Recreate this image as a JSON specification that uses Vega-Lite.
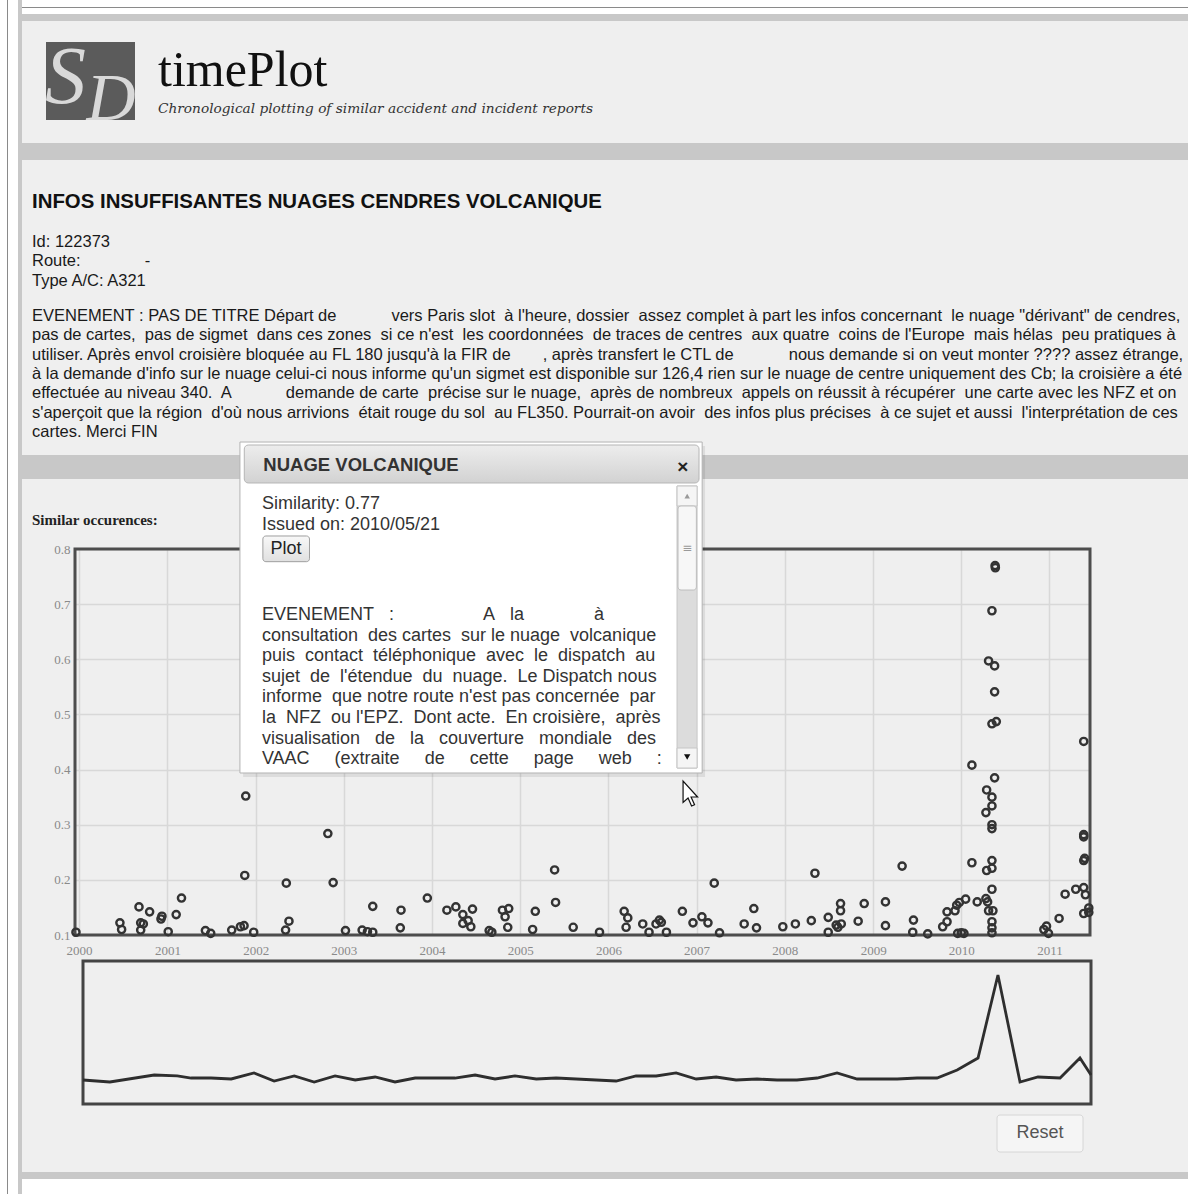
{
  "$schema": "https://vega.github.io/schema/vega-lite/v6.json",
  "background": "#efefef",
  "padding": 0,
  "spacing": 0,
  "bounds": "full",
  "config": {
    "view": {"stroke": null},
    "concat": {"spacing": 0},
    "title": {"offset": 0, "anchor": "start", "frame": "group", "orient": "bottom"}
  },
  "datasets": {
    "pts": [
      {"date": "1999-12-19", "sim": 0.105}, {"date": "2000-06-18", "sim": 0.122}, {"date": "2000-06-25", "sim": 0.110},
      {"date": "2000-09-05", "sim": 0.151}, {"date": "2000-09-12", "sim": 0.122}, {"date": "2000-09-23", "sim": 0.120},
      {"date": "2000-09-12", "sim": 0.109}, {"date": "2000-10-19", "sim": 0.142}, {"date": "2000-12-09", "sim": 0.134},
      {"date": "2000-12-05", "sim": 0.129}, {"date": "2001-01-04", "sim": 0.106}, {"date": "2001-02-06", "sim": 0.137},
      {"date": "2001-02-28", "sim": 0.167}, {"date": "2001-06-07", "sim": 0.108}, {"date": "2001-06-29", "sim": 0.103},
      {"date": "2001-09-24", "sim": 0.109}, {"date": "2001-10-30", "sim": 0.115}, {"date": "2001-11-14", "sim": 0.117},
      {"date": "2001-11-17", "sim": 0.208}, {"date": "2001-11-21", "sim": 0.352}, {"date": "2001-12-24", "sim": 0.105},
      {"date": "2002-05-05", "sim": 0.109}, {"date": "2002-05-19", "sim": 0.125}, {"date": "2002-05-08", "sim": 0.194},
      {"date": "2002-10-27", "sim": 0.284}, {"date": "2002-11-18", "sim": 0.195}, {"date": "2003-01-08", "sim": 0.108},
      {"date": "2003-03-18", "sim": 0.109}, {"date": "2003-04-09", "sim": 0.106}, {"date": "2003-05-01", "sim": 0.105},
      {"date": "2003-05-01", "sim": 0.152}, {"date": "2003-08-26", "sim": 0.145}, {"date": "2003-08-23", "sim": 0.113},
      {"date": "2003-12-13", "sim": 0.167}, {"date": "2004-03-03", "sim": 0.145}, {"date": "2004-04-09", "sim": 0.151},
      {"date": "2004-05-08", "sim": 0.137}, {"date": "2004-06-17", "sim": 0.147}, {"date": "2004-05-08", "sim": 0.121},
      {"date": "2004-05-30", "sim": 0.126}, {"date": "2004-06-10", "sim": 0.115}, {"date": "2004-08-25", "sim": 0.108},
      {"date": "2004-09-05", "sim": 0.105}, {"date": "2004-10-19", "sim": 0.145}, {"date": "2004-11-14", "sim": 0.148},
      {"date": "2004-10-30", "sim": 0.133}, {"date": "2004-11-10", "sim": 0.114}, {"date": "2005-02-21", "sim": 0.110},
      {"date": "2005-03-04", "sim": 0.143}, {"date": "2005-05-23", "sim": 0.218}, {"date": "2005-05-27", "sim": 0.159},
      {"date": "2005-08-08", "sim": 0.114}, {"date": "2005-11-25", "sim": 0.105}, {"date": "2006-03-07", "sim": 0.143},
      {"date": "2006-03-22", "sim": 0.131}, {"date": "2006-03-15", "sim": 0.114}, {"date": "2006-05-23", "sim": 0.120},
      {"date": "2006-06-18", "sim": 0.105}, {"date": "2006-07-17", "sim": 0.120}, {"date": "2006-07-31", "sim": 0.127},
      {"date": "2006-08-08", "sim": 0.123}, {"date": "2006-08-29", "sim": 0.105}, {"date": "2006-11-03", "sim": 0.143},
      {"date": "2006-12-17", "sim": 0.122}, {"date": "2007-01-23", "sim": 0.133}, {"date": "2007-02-17", "sim": 0.122},
      {"date": "2007-03-15", "sim": 0.194}, {"date": "2007-04-06", "sim": 0.104}, {"date": "2007-07-17", "sim": 0.120},
      {"date": "2007-08-26", "sim": 0.148}, {"date": "2007-09-06", "sim": 0.113}, {"date": "2007-12-24", "sim": 0.115},
      {"date": "2008-02-14", "sim": 0.120}, {"date": "2008-04-20", "sim": 0.126}, {"date": "2008-05-05", "sim": 0.212},
      {"date": "2008-06-29", "sim": 0.132}, {"date": "2008-06-29", "sim": 0.105}, {"date": "2008-08-01", "sim": 0.118},
      {"date": "2008-08-08", "sim": 0.114}, {"date": "2008-08-22", "sim": 0.120}, {"date": "2008-08-19", "sim": 0.157},
      {"date": "2008-08-19", "sim": 0.144}, {"date": "2008-10-31", "sim": 0.125}, {"date": "2008-11-25", "sim": 0.157},
      {"date": "2009-02-21", "sim": 0.160}, {"date": "2009-02-21", "sim": 0.117}, {"date": "2009-05-01", "sim": 0.225},
      {"date": "2009-06-17", "sim": 0.127}, {"date": "2009-06-14", "sim": 0.105}, {"date": "2009-08-15", "sim": 0.102},
      {"date": "2009-10-16", "sim": 0.115}, {"date": "2009-11-03", "sim": 0.124}, {"date": "2009-11-03", "sim": 0.142},
      {"date": "2009-12-06", "sim": 0.144}, {"date": "2009-12-13", "sim": 0.154}, {"date": "2009-12-24", "sim": 0.159},
      {"date": "2010-01-19", "sim": 0.165}, {"date": "2009-12-17", "sim": 0.103}, {"date": "2010-01-01", "sim": 0.104},
      {"date": "2010-01-12", "sim": 0.103}, {"date": "2010-02-14", "sim": 0.231}, {"date": "2010-02-14", "sim": 0.408},
      {"date": "2010-03-08", "sim": 0.160}, {"date": "2010-04-13", "sim": 0.166}, {"date": "2010-04-20", "sim": 0.160},
      {"date": "2010-04-16", "sim": 0.217}, {"date": "2010-05-08", "sim": 0.235}, {"date": "2010-05-08", "sim": 0.221},
      {"date": "2010-05-08", "sim": 0.183}, {"date": "2010-04-24", "sim": 0.144}, {"date": "2010-05-12", "sim": 0.144},
      {"date": "2010-05-08", "sim": 0.124}, {"date": "2010-05-08", "sim": 0.113}, {"date": "2010-05-08", "sim": 0.104},
      {"date": "2010-04-16", "sim": 0.363}, {"date": "2010-05-08", "sim": 0.350}, {"date": "2010-05-08", "sim": 0.334},
      {"date": "2010-04-13", "sim": 0.322}, {"date": "2010-05-08", "sim": 0.300}, {"date": "2010-05-08", "sim": 0.293},
      {"date": "2010-05-19", "sim": 0.385}, {"date": "2010-05-08", "sim": 0.483}, {"date": "2010-05-26", "sim": 0.487},
      {"date": "2010-05-19", "sim": 0.541}, {"date": "2010-04-24", "sim": 0.597}, {"date": "2010-05-19", "sim": 0.588},
      {"date": "2010-05-08", "sim": 0.688}, {"date": "2010-05-21", "sim": 0.770}, {"date": "2010-05-22", "sim": 0.766},
      {"date": "2010-12-09", "sim": 0.110}, {"date": "2010-12-20", "sim": 0.116}, {"date": "2010-12-28", "sim": 0.103},
      {"date": "2011-02-10", "sim": 0.130}, {"date": "2011-03-07", "sim": 0.174}, {"date": "2011-04-20", "sim": 0.183},
      {"date": "2011-05-23", "sim": 0.186}, {"date": "2011-05-30", "sim": 0.173}, {"date": "2011-05-23", "sim": 0.139},
      {"date": "2011-06-13", "sim": 0.149}, {"date": "2011-06-13", "sim": 0.141}, {"date": "2011-05-23", "sim": 0.278},
      {"date": "2011-05-23", "sim": 0.282}, {"date": "2011-05-27", "sim": 0.239}, {"date": "2011-05-23", "sim": 0.235},
      {"date": "2011-05-23", "sim": 0.451}
    ],
    "overview": [
      {"date": "1999-12-15", "count": 4.0}, {"date": "2000-04-05", "count": 3.67}, {"date": "2000-10-07", "count": 4.83},
      {"date": "2001-01-11", "count": 4.67}, {"date": "2001-03-10", "count": 4.33}, {"date": "2001-06-01", "count": 4.33},
      {"date": "2001-08-24", "count": 4.17}, {"date": "2001-11-27", "count": 5.17}, {"date": "2002-02-19", "count": 3.83},
      {"date": "2002-05-14", "count": 4.67}, {"date": "2002-08-05", "count": 3.67}, {"date": "2002-10-31", "count": 4.67},
      {"date": "2003-01-23", "count": 4.0}, {"date": "2003-04-16", "count": 4.5}, {"date": "2003-07-08", "count": 3.67},
      {"date": "2003-09-30", "count": 4.33}, {"date": "2003-12-22", "count": 4.33}, {"date": "2004-03-14", "count": 4.33},
      {"date": "2004-06-06", "count": 4.83}, {"date": "2004-08-28", "count": 4.17}, {"date": "2004-11-19", "count": 4.67},
      {"date": "2005-02-16", "count": 4.17}, {"date": "2005-05-10", "count": 4.33}, {"date": "2005-08-01", "count": 4.17},
      {"date": "2005-10-24", "count": 4.0}, {"date": "2006-01-15", "count": 3.83}, {"date": "2006-04-08", "count": 4.67},
      {"date": "2006-07-01", "count": 4.67}, {"date": "2006-09-22", "count": 5.17}, {"date": "2006-12-15", "count": 4.17},
      {"date": "2007-03-08", "count": 4.5}, {"date": "2007-05-30", "count": 4.0}, {"date": "2007-08-26", "count": 4.17},
      {"date": "2007-11-17", "count": 4.0}, {"date": "2008-02-08", "count": 4.0}, {"date": "2008-05-02", "count": 4.33},
      {"date": "2008-07-24", "count": 5.17}, {"date": "2008-10-16", "count": 4.17}, {"date": "2009-01-08", "count": 4.17},
      {"date": "2009-04-01", "count": 4.17}, {"date": "2009-06-23", "count": 4.33}, {"date": "2009-09-14", "count": 4.33},
      {"date": "2009-12-07", "count": 5.67}, {"date": "2010-03-04", "count": 7.67}, {"date": "2010-05-26", "count": 21.5},
      {"date": "2010-08-26", "count": 3.67}, {"date": "2010-11-09", "count": 4.5}, {"date": "2011-02-09", "count": 4.33},
      {"date": "2011-05-03", "count": 7.67}, {"date": "2011-06-18", "count": 4.83}
    ]
  },
  "hconcat": [
    {"width": 7, "height": 1194, "data": {"values": []}, "mark": "rect", "encoding": {}, "view": {"fill": "#ffffff"}},
    {"width": 1, "height": 1194, "data": {"values": []}, "mark": "rect", "encoding": {}, "view": {"fill": "#8a8a8a"}},
    {"width": 10, "height": 1194, "data": {"values": []}, "mark": "rect", "encoding": {}, "view": {"fill": "#ffffff"}},
    {"width": 4, "height": 1194, "data": {"values": []}, "mark": "rect", "encoding": {}, "view": {"fill": "#c8c8c8"}},
    {
      "spacing": 0, "bounds": "flush",
      "vconcat": [
        {"width": 1166, "height": 7, "data": {"values": []}, "mark": "rect", "encoding": {}, "view": {"fill": "#ffffff"}},
        {"width": 1166, "height": 1, "data": {"values": []}, "mark": "rect", "encoding": {}, "view": {"fill": "#8a8a8a"}},
        {"width": 1166, "height": 6, "data": {"values": []}, "mark": "rect", "encoding": {}, "view": {"fill": "#ffffff"}},
        {"width": 1166, "height": 7, "data": {"values": []}, "mark": "rect", "encoding": {}, "view": {"fill": "#c8c8c8"}},
        {
          "width": 1166, "height": 122,
          "title": {
            "text": "timePlot",
            "subtitle": "Chronological plotting of similar accident and incident reports",
            "orient": "bottom", "anchor": "start", "frame": "group", "offset": -97.5, "dx": 136,
            "font": "Liberation Serif", "fontSize": 50, "fontWeight": "normal", "color": "#111111",
            "subtitleFont": "DejaVu Serif", "subtitleFontSize": 13.7, "subtitleFontStyle": "italic", "subtitleColor": "#333333",
            "subtitlePadding": 6
          },
          "layer": [
            {
              "data": {"values": [{}]},
              "mark": {"type": "rect", "fill": "#5b5b5b"},
              "encoding": {
                "x": {"datum": 0, "type": "quantitative", "scale": {"domain": [0, 1], "range": [24, 113], "nice": false, "zero": false}, "axis": null},
                "x2": {"datum": 1},
                "y": {"datum": 0, "type": "quantitative", "scale": {"domain": [0, 1], "range": [99, 21], "nice": false, "zero": false}, "axis": null},
                "y2": {"datum": 1}
              }
            },
            {
              "data": {"values": [{"letter": "S"}]},
              "mark": {"type": "text", "font": "Liberation Serif", "fontStyle": "italic", "fontSize": 82, "fill": "#d9d9d9", "align": "center", "baseline": "alphabetic"},
              "encoding": {
                "x": {"datum": 0.22, "type": "quantitative"},
                "y": {"datum": 0.218, "type": "quantitative"},
                "text": {"field": "letter"}
              }
            },
            {
              "data": {"values": [{"letter": "D"}]},
              "mark": {"type": "text", "font": "Liberation Serif", "fontStyle": "italic", "fontSize": 68, "fill": "#d9d9d9", "align": "center", "baseline": "alphabetic"},
              "encoding": {
                "x": {"datum": 0.73, "type": "quantitative"},
                "y": {"datum": 0.0, "type": "quantitative"},
                "text": {"field": "letter"}
              }
            }
          ]
        },
        {"width": 1166, "height": 17, "data": {"values": []}, "mark": "rect", "encoding": {}, "view": {"fill": "#c8c8c8"}},
        {
          "width": 1166, "height": 32, "data": {"values": []}, "mark": "rect", "encoding": {},
          "title": {
            "text": "INFOS INSUFFISANTES NUAGES CENDRES VOLCANIQUE",
            "subtitle": ["Id: 122373", "Route: \u00a0\u00a0\u00a0\u00a0\u00a0\u00a0\u00a0\u00a0\u00a0\u00a0\u00a0\u00a0 -", "Type A/C: A321"],
            "orient": "bottom", "anchor": "start", "frame": "group", "offset": 0, "dx": 10,
            "font": "Liberation Sans", "fontSize": 20.4, "fontWeight": "bold", "color": "#111111",
            "subtitleFont": "Liberation Sans", "subtitleFontSize": 16.5, "subtitleColor": "#1a1a1a",
            "subtitleLineHeight": 19.5, "subtitlePadding": 21.3
          }
        },
        {
          "width": 1166, "height": 116, "data": {"values": []}, "mark": "rect", "encoding": {},
          "title": {
            "text": [
              "EVENEMENT : PAS DE TITRE Départ de \u00a0\u00a0\u00a0\u00a0\u00a0\u00a0\u00a0\u00a0\u00a0\u00a0 vers Paris slot\u00a0 à l'heure, dossier\u00a0 assez complet à part les infos concernant\u00a0 le nuage \"dérivant\" de cendres,",
              "pas de cartes,\u00a0 pas de sigmet\u00a0 dans ces zones\u00a0 si ce n'est\u00a0 les coordonnées\u00a0 de traces de centres\u00a0 aux quatre\u00a0 coins de l'Europe\u00a0 mais hélas\u00a0 peu pratiques à",
              "utiliser. Après envol croisière bloquée au FL 180 jusqu'à la FIR de \u00a0\u00a0\u00a0\u00a0\u00a0\u00a0, après transfert le CTL de \u00a0\u00a0\u00a0\u00a0\u00a0\u00a0\u00a0\u00a0\u00a0\u00a0 nous demande si on veut monter ???? assez étrange,",
              "à la demande d'info sur le nuage celui-ci nous informe qu'un sigmet est disponible sur 126,4 rien sur le nuage de centre uniquement des Cb; la croisière a été",
              "effectuée au niveau 340.\u00a0 A \u00a0\u00a0\u00a0\u00a0\u00a0\u00a0\u00a0\u00a0\u00a0\u00a0 demande de carte\u00a0 précise sur le nuage,\u00a0 après de nombreux\u00a0 appels on réussit à récupérer\u00a0 une carte avec les NFZ et on",
              "s'aperçoit que la région\u00a0 d'où nous arrivions\u00a0 était rouge du sol\u00a0 au FL350. Pourrait-on avoir\u00a0 des infos plus précises\u00a0 à ce sujet et aussi\u00a0 l'interprétation de ces",
              "cartes. Merci FIN"
            ],
            "orient": "bottom", "anchor": "start", "frame": "group", "offset": 0, "dx": 10,
            "font": "Liberation Sans", "fontSize": 16.5, "fontWeight": "normal", "color": "#1a1a1a", "lineHeight": 19.3
          }
        },
        {"width": 1166, "height": 147, "data": {"values": []}, "mark": "rect", "encoding": {}},
        {"width": 1166, "height": 24, "data": {"values": []}, "mark": "rect", "encoding": {}, "view": {"fill": "#c8c8c8"}},
        {
          "width": 1166, "height": 34, "data": {"values": []}, "mark": "rect", "encoding": {},
          "title": {
            "text": "Similar occurences:",
            "orient": "bottom", "anchor": "start", "frame": "group", "offset": 0, "dx": 10,
            "font": "Liberation Serif", "fontSize": 15, "fontWeight": "bold", "color": "#222222"
          }
        },
        {"width": 1166, "height": 36, "data": {"values": []}, "mark": "rect", "encoding": {}},
        {
          "width": 1166, "height": 386,
          "layer": [
            {
              "data": {"values": [{}]},
              "mark": {"type": "rect", "filled": false, "stroke": "#4d4d4d", "strokeWidth": 3},
              "encoding": {
                "x": {
                  "datum": {"year": 1999, "month": 12, "date": 15, "utc": true}, "type": "temporal",
                  "scale": {"type": "utc", "domain": [{"year": 1999, "month": 12, "date": 15, "utc": true}, {"year": 2011, "month": 6, "date": 18, "utc": true}], "range": [53, 1068], "nice": false},
                  "axis": {
                    "title": null, "tickCount": {"interval": "year", "step": 1}, "format": "%Y", "formatType": "utc",
                    "labelFont": "Liberation Serif", "labelFontSize": 13, "labelColor": "#8a8a8a", "labelPadding": 9,
                    "ticks": false, "tickSize": 0, "domain": false, "grid": true, "gridColor": "#d8d8d8", "gridWidth": 1.5,
                    "labelFlush": false, "labelOverlap": false
                  }
                },
                "x2": {"datum": {"year": 2011, "month": 6, "date": 18, "utc": true}},
                "y": {
                  "datum": 0.1, "type": "quantitative",
                  "scale": {"domain": [0.1, 0.8], "nice": false, "zero": false},
                  "axis": {
                    "title": null, "values": [0.1, 0.2, 0.3, 0.4, 0.5, 0.6, 0.7, 0.8], "format": ".1f", "offset": -53,
                    "labelFont": "Liberation Serif", "labelFontSize": 13, "labelColor": "#8a8a8a", "labelPadding": 5,
                    "ticks": false, "tickSize": 0, "domain": false, "grid": true, "gridColor": "#d8d8d8", "gridWidth": 1.5,
                    "labelFlush": false
                  }
                },
                "y2": {"datum": 0.8}
              }
            },
            {
              "data": {"name": "pts"},
              "mark": {"type": "point", "shape": "circle", "filled": false, "stroke": "#333333", "strokeWidth": 2.4, "size": 52, "opacity": 1},
              "encoding": {
                "x": {"field": "date", "type": "temporal", "title": null},
                "y": {"field": "sim", "type": "quantitative", "title": null}
              }
            },
            {
              "data": {"values": [{}]},
              "mark": {"type": "rect", "fill": "#000000", "opacity": 0.08},
              "encoding": {
                "x": {"datum": {"year": 2001, "month": 11, "date": 10, "utc": true}, "type": "temporal"},
                "x2": {"datum": {"year": 2007, "month": 2, "date": 5, "utc": true}},
                "y": {"datum": 0.9868, "type": "quantitative"},
                "y2": {"datum": 0.3865}
              }
            },
            {
              "data": {"values": [{}]},
              "mark": {"type": "rect", "fill": "#ffffff", "stroke": "#b3b3b3", "strokeWidth": 1},
              "encoding": {
                "x": {"datum": {"year": 2001, "month": 10, "date": 28, "utc": true}, "type": "temporal"},
                "x2": {"datum": {"year": 2007, "month": 1, "date": 24, "utc": true}},
                "y": {"datum": 0.994, "type": "quantitative"},
                "y2": {"datum": 0.3938}
              }
            },
            {
              "data": {"values": [{}]},
              "mark": {
                "type": "rect", "stroke": "#b5b5b5", "strokeWidth": 1, "cornerRadius": 4,
                "fill": {"gradient": "linear", "x1": 0, "y1": 0, "x2": 0, "y2": 1, "stops": [{"offset": 0, "color": "#ededed"}, {"offset": 1, "color": "#d2d2d2"}]}
              },
              "encoding": {
                "x": {"datum": {"year": 2001, "month": 11, "date": 15, "utc": true}, "type": "temporal"},
                "x2": {"datum": {"year": 2007, "month": 1, "date": 11, "utc": true}},
                "y": {"datum": 0.9886, "type": "quantitative"},
                "y2": {"datum": 0.9197}
              }
            },
            {
              "data": {"values": [{}]},
              "mark": {"type": "text", "text": "NUAGE VOLCANIQUE", "font": "Liberation Sans", "fontSize": 18.5, "fontWeight": "bold", "fill": "#333333", "align": "left", "baseline": "alphabetic"},
              "encoding": {
                "x": {"datum": {"year": 2002, "month": 2, "date": 2, "utc": true}, "type": "temporal"},
                "y": {"datum": 0.942, "type": "quantitative"}
              }
            },
            {
              "data": {"values": [{}]},
              "mark": {"type": "text", "text": "×", "font": "Liberation Sans", "fontSize": 19, "fontWeight": "bold", "fill": "#222222", "align": "center", "baseline": "middle"},
              "encoding": {
                "x": {"datum": {"year": 2006, "month": 11, "date": 5, "utc": true}, "type": "temporal"},
                "y": {"datum": 0.9482, "type": "quantitative"}
              }
            },
            {
              "data": {"values": [{}]},
              "mark": {"type": "text", "text": ["Similarity: 0.77", "Issued on: 2010/05/21"], "font": "Liberation Sans", "fontSize": 18, "lineHeight": 21, "fill": "#333333", "align": "left", "baseline": "alphabetic"},
              "encoding": {
                "x": {"datum": {"year": 2002, "month": 1, "date": 27, "utc": true}, "type": "temporal"},
                "y": {"datum": 0.8725, "type": "quantitative"}
              }
            },
            {
              "data": {"values": [{}]},
              "mark": {
                "type": "rect", "stroke": "#9f9f9f", "strokeWidth": 1, "cornerRadius": 3,
                "fill": {"gradient": "linear", "x1": 0, "y1": 0, "x2": 0, "y2": 1, "stops": [{"offset": 0, "color": "#f8f8f8"}, {"offset": 1, "color": "#e0e0e0"}]}
              },
              "encoding": {
                "x": {"datum": {"year": 2002, "month": 1, "date": 31, "utc": true}, "type": "temporal"},
                "x2": {"datum": {"year": 2002, "month": 8, "date": 12, "utc": true}},
                "y": {"datum": 0.8236, "type": "quantitative"},
                "y2": {"datum": 0.777}
              }
            },
            {
              "data": {"values": [{}]},
              "mark": {"type": "text", "text": "Plot", "font": "Liberation Sans", "fontSize": 18, "fill": "#222222", "align": "center", "baseline": "middle"},
              "encoding": {
                "x": {"datum": {"year": 2002, "month": 5, "date": 7, "utc": true}, "type": "temporal"},
                "y": {"datum": 0.8, "type": "quantitative"}
              }
            },
            {
              "data": {"values": [{}]},
              "mark": {
                "type": "text",
                "text": [
                  "EVENEMENT\u00a0\u00a0 :\u00a0\u00a0\u00a0\u00a0\u00a0\u00a0\u00a0\u00a0\u00a0\u00a0\u00a0\u00a0\u00a0\u00a0\u00a0\u00a0\u00a0 A\u00a0\u00a0 la\u00a0\u00a0\u00a0\u00a0\u00a0\u00a0\u00a0\u00a0\u00a0\u00a0\u00a0\u00a0\u00a0 à",
                  "consultation\u00a0 des cartes\u00a0 sur le nuage\u00a0 volcanique",
                  "puis\u00a0 contact\u00a0 téléphonique\u00a0 avec\u00a0 le\u00a0 dispatch\u00a0 au",
                  "sujet\u00a0 de\u00a0 l'étendue\u00a0 du\u00a0 nuage.\u00a0 Le Dispatch nous",
                  "informe\u00a0 que notre route n'est pas concernée\u00a0 par",
                  "la\u00a0 NFZ\u00a0 ou l'EPZ.\u00a0 Dont acte.\u00a0 En croisière,\u00a0 après",
                  "visualisation\u00a0\u00a0 de\u00a0\u00a0 la\u00a0\u00a0 couverture\u00a0\u00a0 mondiale\u00a0\u00a0 des",
                  "VAAC\u00a0\u00a0\u00a0\u00a0 (extraite\u00a0\u00a0\u00a0\u00a0 de\u00a0\u00a0\u00a0\u00a0 cette\u00a0\u00a0\u00a0\u00a0 page\u00a0\u00a0\u00a0\u00a0 web\u00a0\u00a0\u00a0\u00a0 :"
                ],
                "font": "Liberation Sans", "fontSize": 18, "lineHeight": 20.6, "fill": "#333333", "align": "left", "baseline": "alphabetic"
              },
              "encoding": {
                "x": {"datum": {"year": 2002, "month": 1, "date": 27, "utc": true}, "type": "temporal"},
                "y": {"datum": 0.6712, "type": "quantitative"}
              }
            },
            {
              "data": {"values": [{}]},
              "mark": {"type": "rect", "fill": "#dcdcdc", "stroke": "#c6c6c6", "strokeWidth": 1},
              "encoding": {
                "x": {"datum": {"year": 2006, "month": 10, "date": 12, "utc": true}, "type": "temporal"},
                "x2": {"datum": {"year": 2007, "month": 1, "date": 3, "utc": true}},
                "y": {"datum": 0.9142, "type": "quantitative"},
                "y2": {"datum": 0.4028}
              }
            },
            {
              "data": {"values": [{}]},
              "mark": {"type": "rect", "fill": "#f5f5f5", "stroke": "#c6c6c6", "strokeWidth": 1},
              "encoding": {
                "x": {"datum": {"year": 2006, "month": 10, "date": 12, "utc": true}, "type": "temporal"},
                "x2": {"datum": {"year": 2007, "month": 1, "date": 3, "utc": true}},
                "y": {"datum": 0.9142, "type": "quantitative"},
                "y2": {"datum": 0.878}
              }
            },
            {
              "data": {"values": [{}]},
              "mark": {"type": "rect", "fill": "#f7f7f7", "stroke": "#bdbdbd", "strokeWidth": 1, "cornerRadius": 3},
              "encoding": {
                "x": {"datum": {"year": 2006, "month": 10, "date": 16, "utc": true}, "type": "temporal"},
                "x2": {"datum": {"year": 2006, "month": 12, "date": 31, "utc": true}},
                "y": {"datum": 0.878, "type": "quantitative"},
                "y2": {"datum": 0.7256}
              }
            },
            {
              "data": {"values": [{}]},
              "mark": {"type": "rect", "fill": "#f5f5f5", "stroke": "#c6c6c6", "strokeWidth": 1},
              "encoding": {
                "x": {"datum": {"year": 2006, "month": 10, "date": 12, "utc": true}, "type": "temporal"},
                "x2": {"datum": {"year": 2007, "month": 1, "date": 3, "utc": true}},
                "y": {"datum": 0.4391, "type": "quantitative"},
                "y2": {"datum": 0.4028}
              }
            },
            {
              "data": {"values": [{}]},
              "mark": {"type": "point", "shape": "triangle-up", "filled": true, "fill": "#9a9a9a", "size": 30, "opacity": 1, "strokeWidth": 0},
              "encoding": {
                "x": {"datum": {"year": 2006, "month": 11, "date": 23, "utc": true}, "type": "temporal"},
                "y": {"datum": 0.8961, "type": "quantitative"}
              }
            },
            {
              "data": {"values": [{}]},
              "mark": {"type": "point", "shape": "triangle-down", "filled": true, "fill": "#111111", "size": 40, "opacity": 1, "strokeWidth": 0},
              "encoding": {
                "x": {"datum": {"year": 2006, "month": 11, "date": 23, "utc": true}, "type": "temporal"},
                "y": {"datum": 0.4228, "type": "quantitative"}
              }
            },
            {
              "data": {"values": [{}]},
              "mark": {"type": "text", "text": "≡", "font": "DejaVu Sans", "fontSize": 12, "fill": "#9a9a9a", "align": "center", "baseline": "middle"},
              "encoding": {
                "x": {"datum": {"year": 2006, "month": 11, "date": 23, "utc": true}, "type": "temporal"},
                "y": {"datum": 0.8018, "type": "quantitative"}
              }
            },
            {
              "data": {"values": [{}]},
              "mark": {
                "type": "point", "shape": "M-0.6,-1L-0.6,0.72L-0.2,0.36L0.08,1L0.32,0.9L0.04,0.28L0.56,0.28Z",
                "filled": true, "fill": "#ffffff", "stroke": "#111111", "strokeWidth": 1.2, "size": 625, "opacity": 1
              },
              "encoding": {
                "x": {"datum": {"year": 2006, "month": 12, "date": 7, "utc": true}, "type": "temporal"},
                "y": {"datum": 0.3566, "type": "quantitative"}
              }
            }
          ]
        },
        {"width": 1166, "height": 26, "data": {"values": []}, "mark": "rect", "encoding": {}},
        {
          "width": 1166, "height": 143,
          "layer": [
            {
              "data": {"values": [{}]},
              "mark": {"type": "rect", "filled": false, "stroke": "#444444", "strokeWidth": 3},
              "encoding": {
                "x": {
                  "datum": {"year": 1999, "month": 12, "date": 15, "utc": true}, "type": "temporal",
                  "scale": {"type": "utc", "domain": [{"year": 1999, "month": 12, "date": 15, "utc": true}, {"year": 2011, "month": 6, "date": 18, "utc": true}], "range": [61, 1069], "nice": false},
                  "axis": null
                },
                "x2": {"datum": {"year": 2011, "month": 6, "date": 18, "utc": true}},
                "y": {"datum": 0, "type": "quantitative", "scale": {"domain": [0, 23.83], "nice": false, "zero": false}, "axis": null},
                "y2": {"datum": 23.83}
              }
            },
            {
              "data": {"name": "overview"},
              "mark": {"type": "line", "stroke": "#2e2e2e", "strokeWidth": 2.8},
              "encoding": {
                "x": {"field": "date", "type": "temporal", "axis": null},
                "y": {"field": "count", "type": "quantitative", "axis": null}
              }
            }
          ]
        },
        {
          "width": 1166, "height": 68,
          "layer": [
            {
              "data": {"values": [{}]},
              "mark": {"type": "rect", "fill": "#f5f5f5", "stroke": "#d6d6d6", "strokeWidth": 1, "cornerRadius": 3},
              "encoding": {
                "x": {"datum": 0, "type": "quantitative", "scale": {"domain": [0, 1], "range": [975, 1061], "nice": false, "zero": false}, "axis": null},
                "x2": {"datum": 1},
                "y": {"datum": 0, "type": "quantitative", "scale": {"domain": [0, 1], "range": [48, 11], "nice": false, "zero": false}, "axis": null},
                "y2": {"datum": 1}
              }
            },
            {
              "data": {"values": [{}]},
              "mark": {"type": "text", "text": "Reset", "font": "Liberation Sans", "fontSize": 18, "fill": "#555555", "align": "center", "baseline": "middle"},
              "encoding": {
                "x": {"datum": 0.5, "type": "quantitative"},
                "y": {"datum": 0.51, "type": "quantitative"}
              }
            }
          ]
        },
        {"width": 1166, "height": 7, "data": {"values": []}, "mark": "rect", "encoding": {}, "view": {"fill": "#c8c8c8"}},
        {"width": 1166, "height": 15, "data": {"values": []}, "mark": "rect", "encoding": {}, "view": {"fill": "#ffffff"}}
      ]
    }
  ]
}
